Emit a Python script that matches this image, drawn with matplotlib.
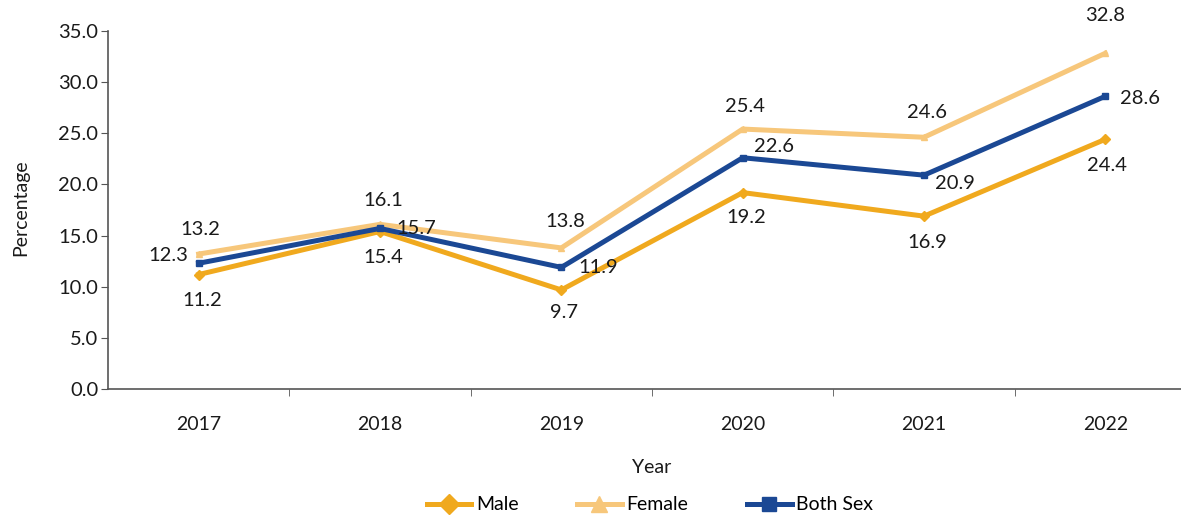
"""Percentage by sex, 2017-2022"""
import matplotlib
matplotlib.use("Agg")
from matplotlib import pyplot as plt
from matplotlib.lines import Line2D

years = ["2017", "2018", "2019", "2020", "2021", "2022"]
male = [11.2, 15.4, 9.7, 19.2, 16.9, 24.4]
female = [13.2, 16.1, 13.8, 25.4, 24.6, 32.8]
both_sex = [12.3, 15.7, 11.9, 22.6, 20.9, 28.6]

# label offsets in pixels (dx, dy)
male_off = [(4, -26), (3, -26), (3, -23), (4, -25), (3, -26), (2, -26)]
female_off = [(2, 25), (3, 24), (4, 26), (2, 23), (3, 25), (0, 38)]
both_off = [(-30, 8), (36, 0), (37, 0), (31, 11), (31, -8), (35, -2)]

C_MALE = "#F0A91E"
C_FEMALE = "#F7C77B"
C_BOTH = "#1B4894"

plt.rcParams["font.family"] = ["Lato", "DejaVu Sans"]
FS = 14.5

fig = plt.figure(figsize=(11.81, 5.15), dpi=100)
ax = fig.add_axes([108 / 1181, 1 - 389.3 / 515, 1088 / 1181, 358.6 / 515])

x = list(range(len(years)))
series = [
    (male, C_MALE, "D", "Male", male_off),
    (female, C_FEMALE, "^", "Female", female_off),
    (both_sex, C_BOTH, "s", "Both Sex", both_off),
]
for vals, col, mk, name, offs in series:
    ax.plot(x, vals, color=col, lw=3.6, marker=mk, ms=5, solid_joinstyle="miter")
    for xi, v, (dx, dy) in zip(x, vals, offs):
        ax.annotate(f"{v:.1f}", (xi, v), xytext=(dx * 0.72, dy * 0.72),
                    textcoords="offset points", ha="center", va="center",
                    fontsize=FS, color="#1a1a1a")

ax.set_xlim(-0.5, 5.5)
ax.set_ylim(0, 35)
ax.set_yticks([i * 5 for i in range(8)])
ax.set_yticklabels([f"{i * 5:.1f}" for i in range(8)])
ax.set_xticks(x)
ax.set_xticklabels(years)
ax.set_xticks([i + 0.5 for i in range(5)], minor=True)
ax.tick_params(axis="x", which="major", length=0, pad=19, labelsize=14, colors="#1a1a1a")
ax.tick_params(axis="x", which="minor", length=5, color="#555555", direction="out")
ax.tick_params(axis="y", length=5, color="#555555", labelsize=FS, labelcolor="#1a1a1a", pad=2)
for s in ["top", "right"]:
    ax.spines[s].set_visible(False)
for s in ["left", "bottom"]:
    ax.spines[s].set_color("#555555")
    ax.spines[s].set_linewidth(1.2)

ax.set_xlabel("Year", fontsize=14, color="#1a1a1a", labelpad=19)
fig.text(21 / 1181, 1 - 208 / 515, "Percentage", rotation=90, ha="center", va="center",
         fontsize=14, color="#1a1a1a")

handles = [
    Line2D([], [], color=C_MALE, lw=3.6, marker="D", ms=10),
    Line2D([], [], color=C_FEMALE, lw=3.6, marker="^", ms=11),
    Line2D([], [], color=C_BOTH, lw=3.6, marker="s", ms=10),
]
fig.legend(handles, ["Male", "Female", "Both Sex"], loc="center",
           bbox_to_anchor=(650 / 1181, 1 - 505 / 515), ncol=3, frameon=False,
           fontsize=14, handlelength=2.3, handletextpad=0.25, columnspacing=3.0)

fig.savefig("out.png", dpi=100)
